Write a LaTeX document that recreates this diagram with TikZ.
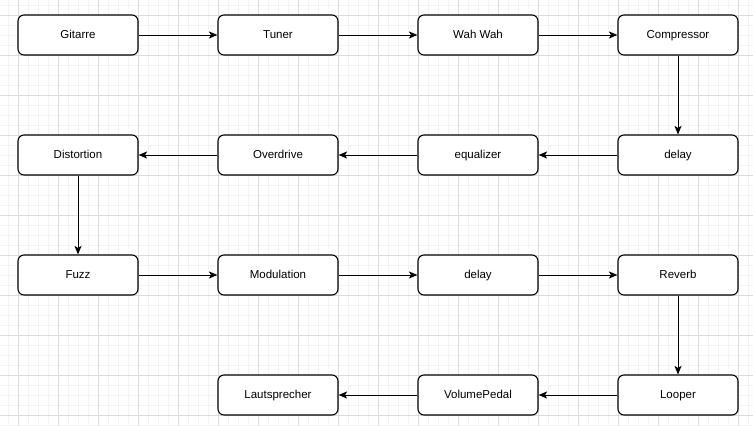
\documentclass[tikz,border=0pt]{standalone}
\usepackage{fontspec}
\setmainfont{Liberation Sans}
\usetikzlibrary{arrows.meta}
\definecolor{minorgrid}{HTML}{F4F4F4}
\definecolor{majorgrid}{HTML}{DCDCDC}
\tikzset{
  pedal/.style={draw=black, line width=1.1pt, rounded corners=6pt, minimum width=120pt, minimum height=40pt, inner sep=0pt, font=\fontsize{11.5}{13}\selectfont, fill=white, text height=8.5pt, text depth=2pt},
  link/.style={draw=black, line width=1pt, -{Stealth[length=8.5pt,width=7pt,inset=2pt]}}
}
\begin{document}
\begin{tikzpicture}[x=1pt,y=-1pt]
\useasboundingbox (0,0) rectangle (753,426);
\fill[white] (0,0) rectangle (753,426);
\foreach \x in {8,18,...,748} \draw[minorgrid, line width=0.6pt] (\x,0) -- (\x,426);
\foreach \y in {5,15,...,425} \draw[minorgrid, line width=0.6pt] (0,\y) -- (753,\y);
\foreach \x in {18,58,...,738} \draw[majorgrid, line width=0.6pt] (\x,0) -- (\x,426);
\foreach \y in {15,55,...,415} \draw[majorgrid, line width=0.6pt] (0,\y) -- (753,\y);

\node[pedal] (gitarre) at (78,35) {Gitarre};
\node[pedal] (tuner) at (278,35) {Tuner};
\node[pedal] (wahwah) at (478,35) {Wah Wah};
\node[pedal] (compressor) at (678,35) {Compressor};

\node[pedal] (distortion) at (78,155) {Distortion};
\node[pedal] (overdrive) at (278,155) {Overdrive};
\node[pedal] (equalizer) at (478,155) {equalizer};
\node[pedal] (delayA) at (678,155) {delay};

\node[pedal] (fuzz) at (78,275) {Fuzz};
\node[pedal] (modulation) at (278,275) {Modulation};
\node[pedal] (delayB) at (478,275) {delay};
\node[pedal] (reverb) at (678,275) {Reverb};

\node[pedal] (lautsprecher) at (278,395) {Lautsprecher};
\node[pedal] (volume) at (478,395) {VolumePedal};
\node[pedal] (looper) at (678,395) {Looper};

\draw[link] (gitarre) -- (tuner);
\draw[link] (tuner) -- (wahwah);
\draw[link] (wahwah) -- (compressor);
\draw[link] (compressor) -- (delayA);
\draw[link] (delayA) -- (equalizer);
\draw[link] (equalizer) -- (overdrive);
\draw[link] (overdrive) -- (distortion);
\draw[link] (distortion) -- (fuzz);
\draw[link] (fuzz) -- (modulation);
\draw[link] (modulation) -- (delayB);
\draw[link] (delayB) -- (reverb);
\draw[link] (reverb) -- (looper);
\draw[link] (looper) -- (volume);
\draw[link] (volume) -- (lautsprecher);
\end{tikzpicture}
\end{document}
